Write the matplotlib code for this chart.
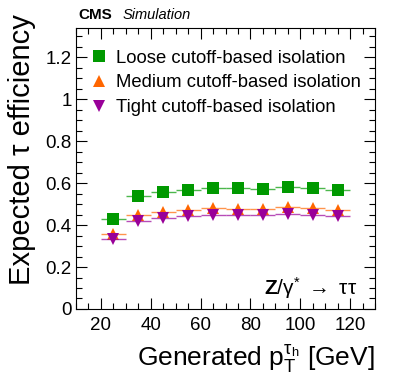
import matplotlib
matplotlib.use("Agg")
import matplotlib.pyplot as plt
import numpy as np

plt.rcParams['font.family'] = ['Liberation Sans', 'DejaVu Sans']
plt.rcParams['mathtext.fontset'] = 'custom'
plt.rcParams['mathtext.rm'] = 'Liberation Sans'
plt.rcParams['mathtext.it'] = 'Liberation Sans:italic'
plt.rcParams['mathtext.bf'] = 'Liberation Sans:bold'

bin_centers = [25, 35, 45, 55, 65, 75, 85, 95, 105, 115]
bin_halfwidth = 5
loose = [0.429, 0.539, 0.557, 0.568, 0.577, 0.577, 0.574, 0.584, 0.575, 0.567]
medium = [0.358, 0.446, 0.464, 0.472, 0.480, 0.478, 0.477, 0.485, 0.481, 0.472]
tight = [0.333, 0.419, 0.432, 0.443, 0.448, 0.448, 0.448, 0.453, 0.450, 0.442]
labels = ["Loose cutoff-based isolation", "Medium cutoff-based isolation", "Tight cutoff-based isolation"]
colors = ["#009900", "#ff6600", "#990099"]
markers = ["s", "^", "v"]

fig = plt.figure(figsize=(3.99, 3.87), dpi=100)
ax = fig.add_axes([0.1905, 0.2016, 0.7495, 0.7261])

handles = []
for vals, lab, c, m in zip([loose, medium, tight], labels, colors, markers):
    ax.errorbar(bin_centers, vals, xerr=bin_halfwidth, yerr=0.003, fmt='none',
                ecolor=c, elinewidth=1.0, capsize=0, alpha=0.7)
    h, = ax.plot(bin_centers, vals, linestyle='none', marker=m, color=c,
                 markersize=9, markeredgewidth=0)
    handles.append(h)

ax.set_xlim(10, 130)
ax.set_ylim(0, 1.34)
ax.set_xticks([20, 40, 60, 80, 100, 120])
ax.set_xticks(np.arange(10, 131, 5), minor=True)
ax.set_yticks([0, 0.2, 0.4, 0.6, 0.8, 1, 1.2])
ax.set_yticklabels(["0", "0.2", "0.4", "0.6", "0.8", "1", "1.2"])
ax.set_yticks(np.arange(0, 1.34, 0.05), minor=True)
ax.tick_params(which='both', direction='in', top=True, right=True, labelsize=13.5)
ax.tick_params(which='major', length=8, width=0.8)
ax.tick_params(which='minor', length=4, width=0.8)
ax.tick_params(axis='x', pad=6)
ax.tick_params(axis='y', pad=3)

ax.set_ylabel("Expected τ efficiency", fontsize=21)
ax.yaxis.set_label_coords(-0.135, 0.566)
ax.set_xlabel(r"Generated $\mathrm{p}_{\mathrm{T}}^{\mathrm{τ}_{\mathrm{h}}}$ [GeV]", fontsize=19, loc='right', labelpad=6)

leg = ax.legend(handles, labels, loc='center left', frameon=False, fontsize=13.3,
                handletextpad=0.3, borderaxespad=0.0, borderpad=0.0, labelspacing=0.42,
                handlelength=1.2, bbox_to_anchor=(0.04, 0.805))

fig.text(0.1955, 0.942, "CMS", fontsize=11, fontweight='bold', ha='left', va='bottom')
fig.text(0.306, 0.942, "Simulation", fontsize=10.5, style='italic', ha='left', va='bottom')

ax.text(0.94, 0.075, r"$\mathbf{Z}/\mathrm{γ}^{*}\ \rightarrow\ \mathrm{ττ}$", transform=ax.transAxes,
        fontsize=15, ha='right', va='center')

fig.savefig("out.png", dpi=100)
